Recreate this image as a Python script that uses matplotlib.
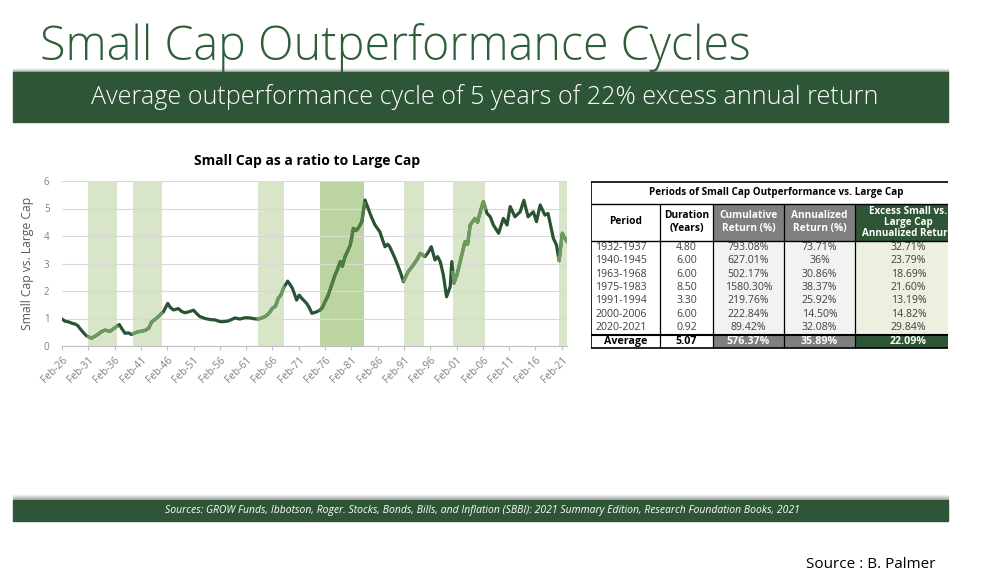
import matplotlib.pyplot as plt
import numpy as np
from matplotlib.patches import Rectangle

plt.rcParams['font.family'] = ['Open Sans', 'DejaVu Sans']

# ratio small cap / large cap (decimal years)
years = [1926.0, 1926.6, 1927.2, 1928.0, 1928.5, 1929.0, 1929.4, 1930.0, 1930.7, 1931.2,
         1931.6, 1932.3, 1932.9, 1933.5, 1934.2, 1935.1, 1935.6, 1936.1, 1936.9, 1937.4,
         1938.0, 1938.6, 1939.2, 1939.9, 1940.5, 1941.2, 1941.8, 1942.5, 1943.05, 1943.6,
         1944.3, 1945.3, 1946.1, 1946.6, 1947.2, 1948.1, 1948.8, 1949.4, 1950.2, 1951.0,
         1951.6, 1952.2, 1953.2, 1954.2, 1955.1, 1955.8, 1956.4, 1957.6, 1958.9, 1959.8,
         1960.8, 1961.8, 1962.5, 1963.3, 1964.0, 1964.6, 1965.3, 1966.0, 1966.6, 1967.1,
         1967.6, 1968.1, 1968.9, 1969.3, 1969.8, 1970.6, 1971.1, 1971.6, 1972.5, 1973.0,
         1973.5, 1974.1, 1974.7, 1975.05, 1975.5, 1976.0, 1976.5, 1976.95, 1977.4, 1977.9,
         1978.4, 1978.9, 1979.3, 1979.8, 1980.3, 1980.8, 1981.4, 1981.9, 1982.3, 1983.0,
         1983.6, 1984.2, 1984.8, 1985.5, 1986.4, 1987.4, 1987.9, 1988.3, 1989.3, 1990.3,
         1990.9, 1991.4, 1991.8, 1992.8, 1993.5, 1994.1, 1995.0, 1995.6, 1996.2, 1996.9,
         1997.4, 1997.9, 1998.5, 1999.1, 1999.8, 2000.1, 2000.5, 2001.1, 2001.7, 2002.6,
         2003.1, 2003.6, 2004.5, 2005.0, 2005.5, 2006.1, 2006.8, 2007.4, 2008.0, 2009.0,
         2009.9, 2010.6, 2011.2, 2012.1, 2013.1, 2013.8, 2014.6, 2015.6, 2016.2, 2016.9,
         2017.8, 2018.4, 2019.4, 2020.0, 2020.5, 2021.1, 2021.5, 2022.0]
ratio = [0.98, 0.90, 0.88, 0.82, 0.80, 0.74, 0.64, 0.50, 0.36, 0.32,
         0.28, 0.36, 0.43, 0.52, 0.58, 0.53, 0.60, 0.67, 0.78, 0.62,
         0.46, 0.48, 0.42, 0.48, 0.52, 0.54, 0.57, 0.65, 0.88, 0.95,
         1.07, 1.25, 1.55, 1.40, 1.31, 1.36, 1.25, 1.21, 1.25, 1.30,
         1.18, 1.07, 1.00, 0.96, 0.95, 0.90, 0.88, 0.91, 1.02, 0.98,
         1.03, 1.02, 0.99, 0.98, 1.02, 1.07, 1.18, 1.37, 1.45, 1.73,
         1.85, 2.10, 2.36, 2.25, 2.10, 1.67, 1.85, 1.73, 1.55, 1.40,
         1.19, 1.22, 1.27, 1.31, 1.40, 1.61, 1.80, 2.04, 2.30, 2.58,
         2.80, 3.07, 2.90, 3.25, 3.45, 3.67, 4.28, 4.20, 4.28, 4.52,
         5.31, 5.00, 4.70, 4.40, 4.16, 3.61, 3.70, 3.61, 3.19, 2.70,
         2.34, 2.55, 2.70, 2.95, 3.15, 3.37, 3.25, 3.40, 3.61, 3.13,
         3.25, 3.07, 2.58, 1.79, 2.16, 3.07, 2.28, 2.60, 3.07, 3.79,
         3.70, 4.40, 4.64, 4.50, 4.88, 5.25, 4.82, 4.70, 4.40, 4.10,
         4.64, 4.40, 5.07, 4.70, 4.88, 5.30, 4.70, 4.88, 4.52, 5.13,
         4.76, 4.82, 3.92, 3.67, 3.10, 4.10, 3.95, 3.80]

# shaded outperformance periods on the chart
band_start = [1931.0, 1939.55, 1963.3, 1975.1, 1991.0, 2000.3, 2020.4]
band_end = [1936.4, 1944.95, 1968.2, 1983.5, 1994.75, 2006.5, 2022.2]
band_dark = [False, False, False, True, False, False, False]

tick_years = list(range(1926, 2022, 5))
tick_labels = ['Feb-%02d' % (y % 100) for y in tick_years]

# table
periods = ['1932-1937', '1940-1945', '1963-1968', '1975-1983', '1991-1994', '2000-2006', '2020-2021']
durations = ['4.80', '6.00', '6.00', '8.50', '3.30', '6.00', '0.92']
cumulative = ['793.08%', '627.01%', '502.17%', '1580.30%', '219.76%', '222.84%', '89.42%']
annualized = ['73.71%', '36%', '30.86%', '38.37%', '25.92%', '14.50%', '32.08%']
excess = ['32.71%', '23.79%', '18.69%', '21.60%', '13.19%', '14.82%', '29.84%']
average_row = ['Average', '5.07', '576.37%', '35.89%', '22.09%']
headers = ['Period', 'Duration\n(Years)', 'Cumulative\nReturn (%)', 'Annualized\nReturn (%)',
           'Excess Small vs.\nLarge Cap\nAnnualized Return']

green = '#2e5535'
W, H = 990, 586
fig = plt.figure(figsize=(W / 100, H / 100), dpi=100)


def fx(x):
    return x / W


def fy(y):
    return 1 - y / H


# slide header
fig.text(fx(40), fy(60), 'Small Cap Outperformance Cycles', fontsize=33.6, color='#2f5e38',
         fontweight='light', ha='left', va='baseline')
for i, c in enumerate(['#e6e6e6', '#cfcfcf', '#b5b5b5']):
    fig.patches.append(Rectangle((fx(13), fy(70 + i)), fx(935), 1 / H, transform=fig.transFigure,
                                 color=c, zorder=1))
fig.patches.append(Rectangle((fx(13), fy(122)), fx(935), 50 / H, transform=fig.transFigure,
                             color=green, zorder=1))
fig.text(fx(485), fy(97), 'Average outperformance cycle of 5 years of 22% excess annual return',
         fontsize=18.1, color='white', ha='center', va='center', fontweight='light')

# footer
for i, c in enumerate(['#f0f0f0', '#e0e0e0', '#cccccc', '#b8b8b8']):
    fig.patches.append(Rectangle((fx(13), fy(496 + i)), fx(935), 1 / H, transform=fig.transFigure,
                                 color=c, zorder=1))
fig.patches.append(Rectangle((fx(13), fy(521)), fx(935), 21 / H, transform=fig.transFigure,
                             color=green, zorder=1))
fig.text(fx(482), fy(511),
         'Sources: GROW Funds, Ibbotson, Roger. Stocks, Bonds, Bills, and Inflation (SBBI): '
         '2021 Summary Edition, Research Foundation Books, 2021',
         fontsize=7.5, color='white', ha='center', va='center', style='italic')
fig.text(fx(935), fy(564), 'Source : B. Palmer', fontsize=11, color='black', ha='right', va='center')

# chart
ax = fig.add_axes([fx(62), fy(346), (567 - 62) / W, (346 - 181) / H])
x = np.array(years)
y = np.array(ratio)
for a, b, dark in zip(band_start, band_end, band_dark):
    ax.axvspan(a, b, color='#bcd4a2' if dark else '#d8e5c8', lw=0, zorder=0)
ax.plot(x, y, color='#2a5333', lw=2.3, zorder=3, solid_joinstyle='round')
for a, b, dark in zip(band_start, band_end, band_dark):
    m = (x > a) & (x < b)
    xs = np.concatenate([[a], x[m], [b]])
    ys = np.interp(xs, x, y)
    ax.plot(xs, ys, color='#4f7f3f' if dark else '#6e9a5d', lw=2.3, zorder=4,
            solid_joinstyle='round')

ax.set_xlim(1926, 2022)
ax.set_ylim(0, 6)
ax.set_yticks(range(0, 7))
ax.set_xticks(tick_years)
ax.set_xticklabels(tick_labels, rotation=45, ha='right', rotation_mode='anchor')
ax.tick_params(axis='x', length=3, color='#bfbfbf', labelsize=7.3, labelcolor='#7f7f7f', pad=3)
ax.tick_params(axis='y', length=0, labelsize=7, labelcolor='#7f7f7f', pad=9)
ax.grid(axis='y', color='#d9d9d9', lw=0.8)
ax.set_axisbelow(True)
for s in ['top', 'right', 'left']:
    ax.spines[s].set_visible(False)
ax.spines['bottom'].set_color('#bfbfbf')
ax.set_ylabel('Small Cap vs. Large Cap', fontsize=8.7, color='#595959', labelpad=7)
fig.text(fx(307), fy(161), 'Small Cap as a ratio to Large Cap', fontsize=10, fontweight='bold',
         ha='center', va='center', color='black')

# table drawn in pixel coordinates, clipped at slide edge
ta = fig.add_axes([fx(591), fy(349), (948 - 591) / W, (349 - 181) / H])
ta.set_xlim(591, 948)
ta.set_ylim(349, 181)
ta.axis('off')
cols = [591, 660, 713, 784, 855, 962]
top, r1, r2, r3, bot = 182, 203.5, 240.5, 334.5, 347.5
rh = (r3 - r2) / len(periods)

def cell(x0, x1, y0, y1, fc):
    ta.add_patch(Rectangle((x0, y0), x1 - x0, y1 - y0, facecolor=fc, edgecolor='none', zorder=1))

def txt(xc, yc, s, **kw):
    kw.setdefault('fontsize', 7.3)
    kw.setdefault('ha', 'center')
    kw.setdefault('linespacing', 1.15)
    ta.text(xc, yc, s, va='center', clip_on=True, zorder=5, **kw)

head_bg = ['white', 'white', '#7f7f7f', '#7f7f7f', green]
body_bg = ['white', 'white', '#f2f2f2', '#f2f2f2', '#ebf1de']
head_fc = ['black', 'black', 'white', 'white', 'white']
for i in range(5):
    cell(cols[i], cols[i + 1], r1, r2, head_bg[i])
    cell(cols[i], cols[i + 1], r2, r3, body_bg[i])
    cell(cols[i], cols[i + 1], r3, bot, head_bg[i])
    cx = (cols[i] + cols[i + 1]) / 2
    if i < 4:
        txt(cx, (r1 + r2) / 2, headers[i], fontweight='bold', color=head_fc[i], fontsize=7.3)
    else:
        txt(cx, (r1 + r2) / 2 + 1, headers[i], fontweight='bold', color=head_fc[i],
            fontsize=7.1, linespacing=1.0)
    txt(cx, (r3 + bot) / 2 + 0.5, average_row[i], fontweight='bold', color=head_fc[i], fontsize=7.7)

txt((cols[0] + cols[-1]) / 2, (top + r1) / 2, 'Periods of Small Cap Outperformance vs. Large Cap',
    fontweight='bold', fontsize=7.1)

for j in range(len(periods)):
    yc = r2 + rh * (j + 0.5)
    row = [periods[j], durations[j], cumulative[j], annualized[j], excess[j]]
    for i, s in enumerate(row):
        if i == 0:
            txt(cols[0] + 4, yc, s, ha='left', color='#404040', fontsize=7.6)
        else:
            txt((cols[i] + cols[i + 1]) / 2, yc, s, color='#404040', fontsize=7.6)

lk = dict(color='black', zorder=6, solid_capstyle='butt')
for yy, lw in [(top, 1.2), (r1, 1.0), (r2, 1.0), (r3, 1.5), (bot, 1.2)]:
    ta.plot([cols[0], cols[-1]], [yy, yy], lw=lw, **lk)
ta.plot([cols[0], cols[0]], [top, bot], lw=1.2, **lk)
for c in cols[1:-1]:
    ta.plot([c, c], [r1, bot], lw=0.9, **lk)

fig.savefig('out.png', dpi=100, facecolor='white')
